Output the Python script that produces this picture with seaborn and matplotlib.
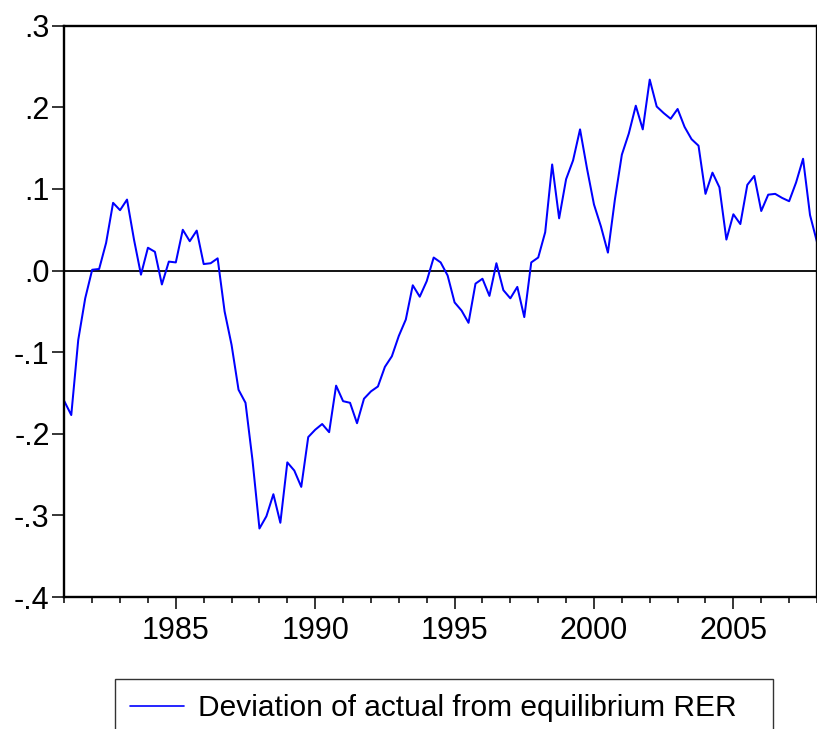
import matplotlib
matplotlib.use("Agg")
import matplotlib.pyplot as plt
import numpy as np
import pandas as pd
import seaborn as sns
from matplotlib.ticker import FixedLocator, FuncFormatter

# ── Datos (trimestral 1981Q1 – 2008Q1) ───────────────────────────────────────
START_YEAR = 1981
SERIES_LABEL = "Deviation of actual from equilibrium RER"
deviation = [
    -0.160, -0.177, -0.085, -0.034, 0.001, 0.002, 0.034, 0.083, 0.074, 0.087,
    0.038, -0.005, 0.028, 0.023, -0.017, 0.011, 0.010, 0.050, 0.036, 0.049,
    0.008, 0.009, 0.015, -0.050, -0.091, -0.146, -0.162, -0.232, -0.316, -0.301,
    -0.274, -0.309, -0.235, -0.245, -0.265, -0.204, -0.195, -0.188, -0.198, -0.141,
    -0.160, -0.162, -0.187, -0.157, -0.148, -0.142, -0.118, -0.105, -0.080, -0.060,
    -0.018, -0.032, -0.013, 0.016, 0.010, -0.006, -0.039, -0.049, -0.064, -0.016,
    -0.010, -0.031, 0.009, -0.024, -0.034, -0.020, -0.057, 0.010, 0.016, 0.047,
    0.130, 0.064, 0.112, 0.135, 0.173, 0.125, 0.081, 0.054, 0.022, 0.087,
    0.142, 0.168, 0.202, 0.173, 0.234, 0.201, 0.193, 0.186, 0.198, 0.176,
    0.161, 0.153, 0.094, 0.120, 0.102, 0.038, 0.069, 0.057, 0.105, 0.116,
    0.073, 0.093, 0.094, 0.089, 0.085, 0.108, 0.137, 0.068, 0.035,
]
major_years = [1985, 1990, 1995, 2000, 2005]
minor_years = list(range(1981, 2009))
y_ticks = [0.3, 0.2, 0.1, 0.0, -0.1, -0.2, -0.3, -0.4]

df = pd.DataFrame({
    "t": START_YEAR + np.arange(len(deviation)) / 4.0,
    "dev": deviation,
})

# ── Estilo ───────────────────────────────────────────────────────────────────
sns.set_style("ticks")
plt.rcParams["font.family"] = ["Liberation Sans", "DejaVu Sans"]

fig = plt.figure(figsize=(8.17, 7.29), dpi=100)
ax = fig.add_axes([0.0787, 0.181, 0.9213, 0.7837])

ax.axhline(0.0, color="black", linewidth=1.3, zorder=1)
sns.lineplot(data=df, x="t", y="dev", ax=ax, color="#0000FF",
             linewidth=1.45, label=SERIES_LABEL, zorder=2)

ax.set_xlim(1981, 2008)
ax.set_ylim(-0.4, 0.3)
ax.xaxis.set_major_locator(FixedLocator(major_years))
ax.xaxis.set_minor_locator(FixedLocator(minor_years))
ax.yaxis.set_major_locator(FixedLocator(y_ticks))
ax.yaxis.set_major_formatter(FuncFormatter(
    lambda v, _: ("-" if v < -1e-9 else "") + f"{abs(v):.1f}".lstrip("0")))

ax.set_xlabel("")
ax.set_ylabel("")
for s in ax.spines.values():
    s.set_color("black")
    s.set_linewidth(1.7)
ax.tick_params(axis="both", which="major", direction="out", length=8.5,
               width=1.1, color="black", labelsize=22, labelcolor="black")
ax.tick_params(axis="x", which="major", pad=5)
ax.tick_params(axis="y", which="major", pad=2)
ax.tick_params(axis="x", which="minor", direction="out", length=4.3,
               width=1.1, color="black")

# ── Leyenda debajo del gráfico (recortada abajo, como en el original) ────────
ax.legend_.remove()
leg = fig.legend(*ax.get_legend_handles_labels(), loc="upper left",
                 bbox_to_anchor=(0.1408, 0.0682, 0.8054, 0.0),
                 mode="expand", borderaxespad=0,
                 fontsize=21.5, frameon=True, fancybox=False,
                 handlelength=1.8, handletextpad=0.47, borderpad=0.5,
                 labelcolor="black")
leg.get_frame().set_edgecolor("black")
leg.get_frame().set_linewidth(1.0)
leg.get_lines()[0].set_linewidth(1.2)

fig.savefig("out.png", dpi=100)
